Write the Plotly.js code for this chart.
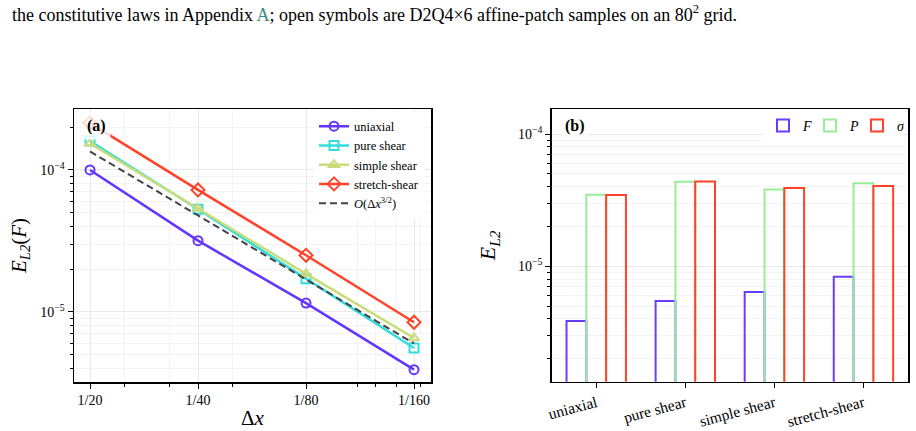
<!DOCTYPE html>
<html>
<head>
<meta charset="utf-8">
<script src="https://cdn.plot.ly/plotly-3.0.1.min.js"></script>
<style>html,body{margin:0;padding:0;background:#fff;}#chart{width:916px;height:431px;}</style>
</head>
<body>
<div id="chart"></div>
<script>
// ---------- Panel (a): convergence data ----------
const dx = [0.05, 0.025, 0.0125, 0.00625];
const dxLabels = ['1/20', '1/40', '1/80', '1/160'];
const uniaxial = [1.00e-4, 3.17e-5, 1.15e-5, 3.90e-6];
const pureShear = [1.60e-4, 5.28e-5, 1.71e-5, 5.55e-6];
const simpleShear = [1.54e-4, 5.34e-5, 1.85e-5, 6.52e-6];
const stretchShear = [2.14e-4, 7.23e-5, 2.50e-5, 8.42e-6];
const refOrder = [1.35e-4, 4.78e-5, 1.69e-5, 5.97e-6];

// ---------- Panel (b): bar data ----------
const cases = ['uniaxial', 'pure shear', 'simple shear', 'stretch-shear'];
const errF = [3.86e-6, 5.47e-6, 6.40e-6, 8.34e-6];
const errP = [3.47e-5, 4.36e-5, 3.80e-5, 4.24e-5];
const errSigma = [3.46e-5, 4.38e-5, 3.91e-5, 4.05e-5];

const yTickVals = [1e-5, 1e-4];
const yTickText = ['10<sup>−5</sup>', '10<sup>−4</sup>'];

function minorVals(d0, d1) {
  const v = [];
  for (let d = d0; d <= d1; d++) for (let k = 2; k <= 9; k++) v.push(k * Math.pow(10, d));
  return v;
}

const W = 916, H = 431;
const px = x => x / W, py = y => 1 - y / H;

const FONT = '"Liberation Serif", "Times New Roman", serif';
const cU = '#6236ff', cPS = '#33dcdc', cSS = '#c8dc7a', cST = '#ff4229';

const traces = [
  {x: dx, y: uniaxial, name: 'uniaxial', type: 'scatter', mode: 'lines+markers',
   line: {color: cU, width: 2.5}, marker: {symbol: 'circle-open', size: 9, color: cU, line: {width: 2}},
   xaxis: 'x', yaxis: 'y', legend: 'legend'},
  {x: dx, y: pureShear, name: 'pure shear', type: 'scatter', mode: 'lines+markers',
   line: {color: cPS, width: 2.5}, marker: {symbol: 'square-open', size: 9, color: cPS, line: {width: 2}},
   xaxis: 'x', yaxis: 'y', legend: 'legend'},
  {x: dx, y: simpleShear, name: 'simple shear', type: 'scatter', mode: 'lines+markers',
   line: {color: cSS, width: 2.5}, marker: {symbol: 'triangle-up-open', size: 9, color: cSS, line: {width: 2}},
   xaxis: 'x', yaxis: 'y', legend: 'legend'},
  {x: dx, y: stretchShear, name: 'stretch-shear', type: 'scatter', mode: 'lines+markers',
   line: {color: cST, width: 2.5}, marker: {symbol: 'diamond-open', size: 10, color: cST, line: {width: 2}},
   xaxis: 'x', yaxis: 'y', legend: 'legend'},
  {x: dx, y: refOrder, name: '<i>O</i>(Δ<i>x</i><sup>3/2</sup>)', type: 'scatter', mode: 'lines',
   line: {color: '#444444', width: 2, dash: '7px,4px'},
   xaxis: 'x', yaxis: 'y', legend: 'legend'},
  {x: cases, y: errF, name: '<i>F</i>', type: 'bar',
   marker: {color: 'rgba(0,0,0,0)', line: {color: '#6a3cff', width: 2}},
   xaxis: 'x2', yaxis: 'y2', legend: 'legend2'},
  {x: cases, y: errP, name: '<i>P</i>', type: 'bar',
   marker: {color: 'rgba(0,0,0,0)', line: {color: '#98ee98', width: 2}},
   xaxis: 'x2', yaxis: 'y2', legend: 'legend2'},
  {x: cases, y: errSigma, name: '<i>σ</i>', type: 'bar',
   marker: {color: 'rgba(0,0,0,0)', line: {color: '#ff4229', width: 2}},
   xaxis: 'x2', yaxis: 'y2', legend: 'legend2'}
];

const axisCommon = {
  showline: true, linecolor: '#000', linewidth: 1.5, mirror: true,
  ticks: 'outside', ticklen: 5, tickwidth: 1, tickcolor: '#000',
  zeroline: false, tickfont: {family: FONT, size: 14, color: '#000'}
};

const layout = {
  width: W, height: H,
  margin: {l: 0, r: 0, t: 0, b: 0},
  paper_bgcolor: '#fff', plot_bgcolor: '#fff',
  font: {family: FONT, color: '#000'},
  barmode: 'group', bargap: 0.333, bargroupgap: 0,
  xaxis: Object.assign({}, axisCommon, {
    domain: [px(74), px(431)], anchor: 'y', type: 'log',
    range: [-1.2564, -2.2515],
    tickmode: 'array', tickvals: dx, ticktext: dxLabels,
    showgrid: true, gridcolor: '#e9e9e9', gridwidth: 1,
    minor: {tickmode: 'array', tickvals: minorVals(-3, -2), ticks: 'outside', ticklen: 3,
            tickcolor: '#000', showgrid: true, gridcolor: '#f3f3f3'},
    title: {text: 'Δ<i>x</i>', font: {family: FONT, size: 21}, standoff: 3}
  }),
  yaxis: Object.assign({}, axisCommon, {
    domain: [py(382), py(109)], anchor: 'x', type: 'log',
    range: [-5.496, -3.570],
    tickmode: 'array', tickvals: yTickVals, ticktext: yTickText,
    showgrid: true, gridcolor: '#e9e9e9',
    minor: {tickmode: 'array', tickvals: minorVals(-6, -4), ticks: 'outside', ticklen: 3,
            tickcolor: '#000', showgrid: true, gridcolor: '#f3f3f3'},
    title: {text: '<i>E<sub>L2</sub></i>(<i>F</i>)', font: {family: FONT, size: 21}, standoff: 8}
  }),
  xaxis2: Object.assign({}, axisCommon, {
    domain: [px(551.7), px(908)], anchor: 'y2', type: 'category',
    range: [-0.5, 3.5], showgrid: false, tickangle: -15,
    tickfont: {family: FONT, size: 15.5, color: '#000'}
  }),
  yaxis2: Object.assign({}, axisCommon, {
    domain: [py(381.7), py(109)], anchor: 'x2', type: 'log',
    range: [-5.872, -3.811],
    tickmode: 'array', tickvals: yTickVals, ticktext: yTickText,
    showgrid: true, gridcolor: '#e6e6e6',
    minor: {tickmode: 'array', tickvals: minorVals(-6, -4), ticks: 'outside', ticklen: 3,
            tickcolor: '#000', showgrid: true, gridcolor: '#f3f3f3'},
    title: {text: '<i>E<sub>L2</sub></i>', font: {family: FONT, size: 22}, standoff: 16}
  }),
  legend: {
    x: px(314), y: py(111.5), xanchor: 'left', yanchor: 'top',
    bgcolor: 'rgba(255,255,255,0.85)', borderwidth: 0,
    font: {family: FONT, size: 12.5, color: '#000'}, tracegroupgap: 0
  },
  legend2: {
    x: px(904), y: py(110), xanchor: 'right', yanchor: 'top', orientation: 'h',
    bgcolor: 'rgba(255,255,255,0.85)', borderwidth: 0,
    entrywidth: 2, entrywidthmode: 'pixels',
    font: {family: FONT, size: 14, color: '#000'}
  },
  annotations: [
    {text: '<b>(a)</b>', xref: 'paper', yref: 'paper', x: px(96), y: py(126.5),
     xanchor: 'center', yanchor: 'middle', showarrow: false,
     font: {family: FONT, size: 16, color: '#000'}, bgcolor: 'rgba(255,255,255,0.8)', borderpad: 4},
    {text: '<b>(b)</b>', xref: 'paper', yref: 'paper', x: px(574.5), y: py(126),
     xanchor: 'center', yanchor: 'middle', showarrow: false,
     font: {family: FONT, size: 16, color: '#000'}, bgcolor: 'rgba(255,255,255,0.8)', borderpad: 4},
    {text: 'the constitutive laws in Appendix <span style="color:#3d8b80">A</span>; open symbols are D2Q4×6 affine-patch samples on an 80<sup>2</sup> grid.',
     xref: 'paper', yref: 'paper', x: px(10), y: py(14), xanchor: 'left', yanchor: 'middle',
     showarrow: false, font: {family: FONT, size: 18, color: '#000'}}
  ]
};

Plotly.newPlot('chart', traces, layout, {staticPlot: true, displayModeBar: false});
</script>
</body>
</html>
